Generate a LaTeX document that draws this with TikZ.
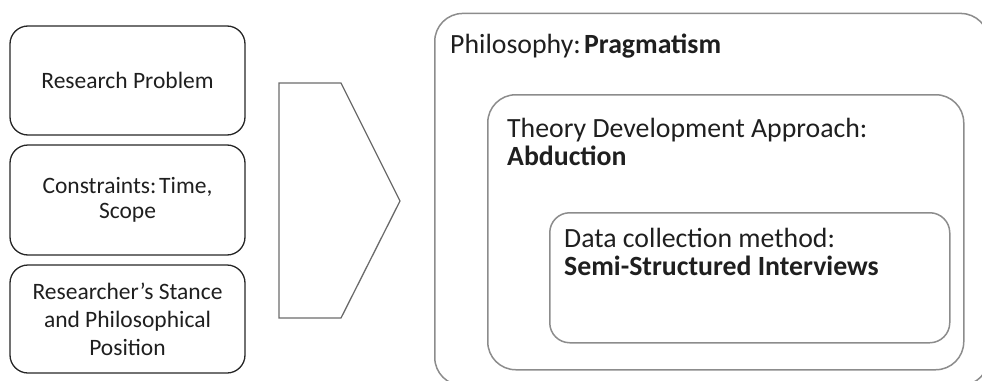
\documentclass[tikz,border=0pt]{standalone}
\usepackage{fontspec}
\setmainfont{Carlito}
\begin{document}
\begin{tikzpicture}[x=1pt,y=-1pt,
  inputbox/.style={draw=black!85, line width=1.3pt, rounded corners=18pt, inner sep=0pt,
    align=center, text=black!88, font=\fontsize{23.5}{28}\selectfont},
  levelbox/.style={draw=black!45, line width=1.5pt, inner sep=0pt, anchor=north west},
  leveltext/.style={anchor=base west, inner sep=0pt, text=black!88, font=\fontsize{27.8}{28}\selectfont},
  flowarrow/.style={draw=black!58, line width=1.3pt, line join=miter}]
\useasboundingbox (0,0) rectangle (982,380);
\clip (0,0) rectangle (982,380);

% inputs on the left
\node[inputbox, minimum width=235, minimum height=109] (problem) at (127.5,80.5) {Research Problem};
\node[inputbox, minimum width=235, minimum height=110] (constraints) at (127.5,200)
  {Constraints:\hspace{0.12em}Time,\\[-3pt] Scope};
\node[inputbox, minimum width=235, minimum height=108] (stance) at (127.5,319)
  {Researcher’s Stance\\ and Philosophical\\ Position};

% chevron leading into the design
\coordinate (a1) at (279,83);
\coordinate (a2) at (341,83);
\coordinate (a3) at (400,201);
\coordinate (a4) at (341,318);
\coordinate (a5) at (279,318);
\draw[flowarrow] (a1) -- (a2) -- (a3) -- (a4) -- (a5) -- cycle;

% nested research design levels
\node[levelbox, rounded corners=28pt, minimum width=554, minimum height=372] (philosophy) at (434,12.7) {};
\node[levelbox, rounded corners=28pt, minimum width=476, minimum height=275] (approach) at (487,94) {};
\node[levelbox, rounded corners=20pt, minimum width=400, minimum height=130] (method) at (549,212) {};

\node[leveltext] (philtext) at (450,53) {Philosophy:\hspace{0.12em}\textbf{Pragmatism}};
\node[leveltext] (apptext1) at (507,137) {Theory Development Approach:};
\node[leveltext] (apptext2) at (507,165) {\textbf{Abduction}};
\node[leveltext] (methtext1) at (564,247) {Data collection method:};
\node[leveltext] (methtext2) at (564,275) {\textbf{Semi-Structured Interviews}};
\end{tikzpicture}
\end{document}
